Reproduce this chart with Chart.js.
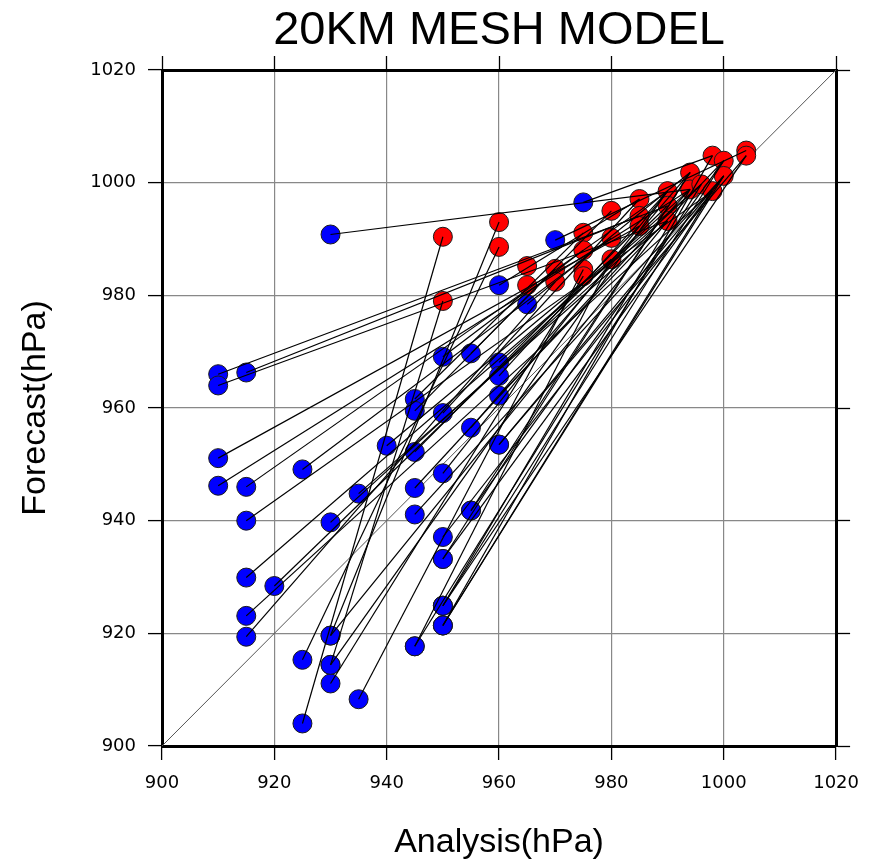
<!DOCTYPE html>
<html>
<head>
<meta charset="utf-8">
<title>20KM MESH MODEL</title>
<script src="https://cdn.jsdelivr.net/npm/chart.js@4.4.1/dist/chart.umd.min.js"></script>
<style>
    html, body { margin: 0; padding: 0; background: #fff; }
    #wrap { width: 872px; height: 866px; }
</style>
</head>
<body>
<div id="wrap"><canvas id="chart" width="872" height="866"></canvas></div>
<script>
// ===== values (hPa) =====
const axisTicks = [900, 920, 940, 960, 980, 1000, 1020];

// blue markers (start of each line); some sit on top of each other
const blueAnalysis = [910, 910, 915, 910, 910, 915, 925, 915, 940, 935,
                      930, 945, 945, 945, 950, 950, 950, 950, 950, 955,
                      915, 920, 915, 915, 930, 925, 930, 930, 935, 925,
                      945, 945, 945, 950, 950, 955, 955, 960, 960, 960,
                      960, 960, 965, 970, 975, 930,
                      950, 950, 950, 950, 945, 950, 955, 960, 930, 930];
const blueForecast = [966, 964, 966.3, 951.1, 946.2, 946, 949.1, 940, 953.3, 944.8,
                      939.7, 952.2, 945.8, 941.1, 948.4, 937.1, 933.2, 924.9, 921.4, 941.8,
                      929.9, 928.4, 923.1, 919.4, 919.6, 915.3, 914.4, 911.1, 908.3, 904,
                      917.7, 961.6, 959.5, 959.1, 969.1, 969.7, 956.5, 953.5, 968.1, 965.7,
                      962.2, 981.8, 978.4, 989.8, 996.5, 990.8,
                      924.9, 924.9, 921.4, 921.4, 917.7, 933.2, 941.8, 953.5, 919.6, 914.4];

// red markers (end of each line)
const redAnalysis = [950, 950, 960, 960, 965, 965, 970, 970, 975, 975,
                     975, 975, 980, 980, 980, 985, 985, 985, 990, 990,
                     990, 994, 994, 996, 998, 998, 1000, 1000, 1004, 1004];
const redForecast = [990.4, 979.0, 993.0, 988.6, 985.2, 981.8, 984.7, 982.4, 991.1, 988.0,
                     984.6, 983.4, 995.0, 990.2, 986.4, 997.1, 994.1, 992.3, 998.5, 995.9,
                     993.2, 1001.8, 998.8, 999.7, 1004.8, 998.5, 1003.9, 1001.2, 1005.7, 1004.8];

// which red marker each blue marker is joined to
const links = [19, 20, 16, 17, 22, 18, 13, 25, 14, 20,
               23, 17, 22, 27, 18, 25, 27, 26, 24, 21,
               23, 19, 25, 7, 2, 3, 1, 11, 10, 0,
               14, 8, 12, 15, 9, 6, 21, 29, 22, 18,
               26, 15, 21, 28, 24, 22,
               29, 22, 27, 25, 23, 21, 26, 27, 20, 18];

// ===== datasets =====
const bluePts = blueAnalysis.map((x, i) => ({ x: x, y: blueForecast[i] }));
const redPts = redAnalysis.map((x, i) => ({ x: x, y: redForecast[i] }));

const lineSets = links.map((r, i) => ({
    data: [bluePts[i], redPts[r]],
    showLine: true,
    borderColor: "#000",
    borderWidth: 1.2,
    pointRadius: 0,
    order: 0
}));

const lo = axisTicks[0];
const hi = axisTicks[axisTicks.length - 1];

const datasets = [
    {
        data: [{ x: lo, y: lo }, { x: hi, y: hi }],
        showLine: true,
        borderColor: "#555",
        borderWidth: 1,
        pointRadius: 0,
        order: 3
    },
    {
        data: bluePts,
        backgroundColor: "#0000ff",
        borderColor: "#1a1a1a",
        borderWidth: 1,
        pointRadius: 9.5,
        order: 2
    },
    {
        data: redPts,
        backgroundColor: "#ff0000",
        borderColor: "#1a1a1a",
        borderWidth: 1,
        pointRadius: 9.5,
        order: 1
    },
    ...lineSets
];

// ===== axes =====
function axis(position, size, extra) {
    const horizontal = position === "top" || position === "bottom";
    return Object.assign({
        type: "linear",
        position: position,
        min: lo,
        max: hi,
        afterBuildTicks: s => { s.ticks = axisTicks.map(v => ({ value: v })); },
        afterFit: s => {
            if (horizontal) s.height = size; else s.width = size;
        },
        grid: {
            color: "#888",
            lineWidth: 1.2,
            tickColor: "#000",
            tickLength: 14,
            tickWidth: 1.3
        },
        border: { color: "#000", width: 3 },
        ticks: { display: false }
    }, extra);
}

const tickFont = { family: "DejaVu Sans", size: 18 };
const titleFont = { family: "Liberation Sans", size: 34 };
const outerGrid = { drawOnChartArea: false, tickColor: "#000", tickLength: 14, tickWidth: 1.3 };

new Chart(document.getElementById("chart"), {
    type: "scatter",
    data: { datasets: datasets },
    options: {
        responsive: false,
        animation: false,
        layout: { padding: 0 },
        plugins: {
            legend: { display: false },
            tooltip: { enabled: false },
            title: {
                display: true,
                text: "20KM MESH MODEL",
                color: "#000",
                fullSize: false,
                font: { family: "Liberation Sans", size: 47, weight: "normal", lineHeight: 1 },
                padding: { top: 8, bottom: 0 }
            }
        },
        scales: {
            x: axis("bottom", 120, {
                ticks: { color: "#000", font: tickFont, padding: 13, maxRotation: 0,
                         callback: v => String(v) },
                title: { display: true, text: "Analysis(hPa)", color: "#000",
                         font: titleFont, padding: { bottom: 3 } }
            }),
            y: axis("left", 162, {
                ticks: { color: "#000", font: tickFont, padding: 12,
                         callback: v => String(v) },
                title: { display: true, text: "Forecast(hPa)", color: "#000",
                         font: titleFont, padding: { top: 15 } }
            }),
            xTop: axis("top", 15, { grid: outerGrid }),
            yRight: axis("right", 35, { grid: outerGrid })
        }
    }
});
</script>
</body>
</html>
